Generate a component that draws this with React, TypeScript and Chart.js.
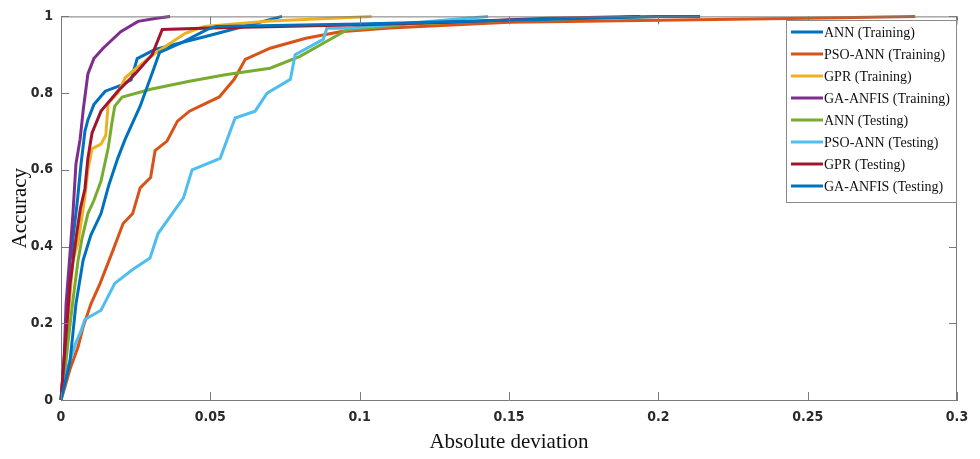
import React, { useEffect, useRef } from "react";
import { Chart, registerables } from "chart.js";

Chart.register(...registerables);

type P = [number, number];

const seriesLabels = [
  "ANN (Training)",
  "PSO-ANN (Training)",
  "GPR (Training)",
  "GA-ANFIS (Training)",
  "ANN (Testing)",
  "PSO-ANN (Testing)",
  "GPR (Testing)",
  "GA-ANFIS (Testing)",
];

const seriesColors = ["#0072BD", "#D95319", "#EDB120", "#7E2F8E", "#77AC30", "#4DBEEE", "#A2142F", "#0072BD"];

const annTraining: P[] = [
  [0, 0], [0.001, 0.1], [0.002, 0.2], [0.0034, 0.36], [0.004, 0.42], [0.0055, 0.52], [0.0067, 0.615],
  [0.008, 0.7], [0.009, 0.73], [0.011, 0.77], [0.0148, 0.805], [0.02, 0.82], [0.0235, 0.835],
  [0.0255, 0.89], [0.0315, 0.914], [0.05, 0.951], [0.074, 1],
];

const psoAnnTraining: P[] = [
  [0, 0], [0.0013, 0.034], [0.003, 0.08], [0.0057, 0.138], [0.0074, 0.19], [0.01, 0.25], [0.0131, 0.304],
  [0.0174, 0.39], [0.0208, 0.46], [0.024, 0.486], [0.0265, 0.553], [0.03, 0.58], [0.0315, 0.65],
  [0.0355, 0.675], [0.039, 0.727], [0.043, 0.753], [0.053, 0.79], [0.058, 0.836], [0.0617, 0.888],
  [0.07, 0.917], [0.082, 0.943], [0.0935, 0.96], [0.11, 0.97], [0.15, 0.985], [0.2, 0.99], [0.25, 0.995],
  [0.286, 1],
];

const gprTraining: P[] = [
  [0, 0], [0.0017, 0.148], [0.004, 0.364], [0.0057, 0.41], [0.008, 0.53], [0.009, 0.6], [0.0104, 0.655],
  [0.0134, 0.667], [0.015, 0.69], [0.0158, 0.774], [0.019, 0.8], [0.0215, 0.84], [0.024, 0.857],
  [0.0315, 0.904], [0.0416, 0.956], [0.048, 0.974], [0.07, 0.988], [0.104, 1],
];

const gaAnfisTraining: P[] = [
  [0, 0], [0.001, 0.1], [0.0017, 0.25], [0.003, 0.38], [0.004, 0.486], [0.005, 0.615], [0.0064, 0.68],
  [0.0075, 0.76], [0.009, 0.85], [0.011, 0.89], [0.0141, 0.917], [0.02, 0.96], [0.0258, 0.987],
  [0.032, 0.995], [0.0365, 1],
];

const annTesting: P[] = [
  [0, 0], [0.001, 0.05], [0.0023, 0.148], [0.004, 0.26], [0.0057, 0.364], [0.007, 0.42], [0.009, 0.486],
  [0.011, 0.52], [0.0134, 0.571], [0.0158, 0.657], [0.017, 0.72], [0.018, 0.766], [0.0205, 0.79],
  [0.03, 0.81], [0.043, 0.831], [0.055, 0.848], [0.07, 0.865], [0.08, 0.896], [0.0878, 0.93],
  [0.096, 0.966], [0.11, 0.974], [0.116, 0.98], [0.15, 0.99], [0.2, 1],
];

const psoAnnTesting: P[] = [
  [0, 0], [0.0023, 0.086], [0.005, 0.15], [0.0067, 0.18], [0.008, 0.21], [0.0134, 0.234], [0.018, 0.304],
  [0.024, 0.34], [0.0298, 0.37], [0.0325, 0.434], [0.041, 0.527], [0.0439, 0.6], [0.0533, 0.63],
  [0.0583, 0.735], [0.065, 0.753], [0.069, 0.8], [0.0768, 0.836], [0.0784, 0.9], [0.0878, 0.94],
  [0.089, 0.969], [0.096, 0.969], [0.12, 0.985], [0.143, 1],
];

const gprTesting: P[] = [
  [0, 0], [0.001, 0.1], [0.002, 0.2], [0.003, 0.3], [0.005, 0.42], [0.0065, 0.5], [0.008, 0.55],
  [0.009, 0.63], [0.0104, 0.696], [0.0134, 0.753], [0.019, 0.805], [0.0248, 0.85], [0.0305, 0.9],
  [0.0339, 0.966], [0.05, 0.97], [0.1, 0.978], [0.13, 0.985], [0.163, 0.995], [0.194, 1],
];

const gaAnfisTesting: P[] = [
  [0, 0], [0.003, 0.1], [0.005, 0.25], [0.0074, 0.364], [0.01, 0.43], [0.0134, 0.486], [0.016, 0.56],
  [0.019, 0.63], [0.0215, 0.68], [0.0265, 0.766], [0.031, 0.862], [0.033, 0.906], [0.04, 0.93],
  [0.049, 0.966], [0.052, 0.974], [0.1, 0.98], [0.15, 0.99], [0.2, 1], [0.214, 1],
];

const allSeries: P[][] = [
  annTraining, psoAnnTraining, gprTraining, gaAnfisTraining,
  annTesting, psoAnnTesting, gprTesting, gaAnfisTesting,
];

const xTicks = [0, 0.05, 0.1, 0.15, 0.2, 0.25, 0.3];
const yTicks = [0, 0.2, 0.4, 0.6, 0.8, 1];

const AXIS_COLOR = "#7a7a7a";
const TICK_FONT = '"Liberation Sans Narrow", "DejaVu Sans Condensed", "Liberation Sans", sans-serif';
const SERIF = '"Liberation Serif", "Times New Roman", serif';

const framePlugin = {
  id: "frame",
  afterDatasetsDraw(chart: any) {
    const { ctx, chartArea, scales } = chart;
    const { left, right, top, bottom } = chartArea;
    ctx.save();
    ctx.strokeStyle = AXIS_COLOR;
    ctx.lineWidth = 1;
    ctx.beginPath();
    ctx.moveTo(left, top + 0.5);
    ctx.lineTo(right, top + 0.5);
    ctx.moveTo(right - 0.5, top);
    ctx.lineTo(right - 0.5, bottom);
    const L = 8;
    for (const v of xTicks) {
      const px = Math.round(scales.x.getPixelForValue(v)) + 0.5;
      ctx.moveTo(px, bottom);
      ctx.lineTo(px, bottom - L);
      ctx.moveTo(px, top);
      ctx.lineTo(px, top + L);
    }
    for (const v of yTicks) {
      const py = Math.round(scales.y.getPixelForValue(v)) + 0.5;
      ctx.moveTo(left, py);
      ctx.lineTo(left + L, py);
      ctx.moveTo(right, py);
      ctx.lineTo(right - L, py);
    }
    ctx.stroke();

    // legend
    const bx = 786.5, by = 20.5, bw = right - 786, bh = 182;
    ctx.fillStyle = "#ffffff";
    ctx.fillRect(bx, by, bw, bh);
    ctx.strokeStyle = "#8a8a8a";
    ctx.strokeRect(bx, by, bw - 1, bh);
    ctx.font = "14px " + SERIF;
    ctx.textBaseline = "middle";
    ctx.textAlign = "left";
    chart.data.datasets.forEach((ds: any, i: number) => {
      const y = 32 + i * 22;
      ctx.strokeStyle = ds.borderColor;
      ctx.lineWidth = 3;
      ctx.beginPath();
      ctx.moveTo(791, y);
      ctx.lineTo(823, y);
      ctx.stroke();
      ctx.fillStyle = "#111";
      ctx.fillText(ds.label, 824, y + 1);
    });
    ctx.restore();
  },
};

export default function App() {
  const ref = useRef<HTMLCanvasElement | null>(null);
  useEffect(() => {
    document.body.style.margin = "0";
    const canvas = ref.current!;
    const chart = new Chart(canvas, {
      type: "line",
      data: {
        datasets: allSeries.map((s, i) => ({
          label: seriesLabels[i],
          data: s.map(([x, y]) => ({ x, y })),
          borderColor: seriesColors[i],
          backgroundColor: seriesColors[i],
          borderWidth: 3,
          pointRadius: 0,
          tension: 0,
          fill: false,
          clip: 6,
          order: allSeries.length - i,
        })),
      },
      options: {
        responsive: false,
        devicePixelRatio: 1,
        animation: false,
        events: [],
        layout: { padding: { top: 15, right: 23, left: 0, bottom: 0 } },
        plugins: { legend: { display: false }, tooltip: { enabled: false }, title: { display: false } },
        scales: {
          x: {
            type: "linear",
            min: 0,
            max: 0.3,
            afterFit: (s: any) => { s.height = 59; },
            afterBuildTicks: (s: any) => { s.ticks = xTicks.map((v) => ({ value: v })); },
            grid: { display: true, drawOnChartArea: false, drawTicks: false },
            border: { display: true, color: AXIS_COLOR, width: 1 },
            ticks: {
              padding: 9,
              color: "#2a2a2a",
              font: { family: TICK_FONT, size: 14, weight: "bold" },
              maxRotation: 0,
              callback: (v: any) => String(v),
            },
            title: {
              display: true,
              text: "Absolute deviation",
              color: "#111",
              font: { family: SERIF, size: 21 },
              padding: { top: 0, bottom: 4 },
            },
          },
          y: {
            type: "linear",
            min: 0,
            max: 1,
            afterFit: (s: any) => { s.width = 61; },
            afterBuildTicks: (s: any) => { s.ticks = yTicks.map((v) => ({ value: v })); },
            grid: { display: true, drawOnChartArea: false, drawTicks: false },
            border: { display: true, color: AXIS_COLOR, width: 1 },
            ticks: {
              padding: 8,
              color: "#2a2a2a",
              font: { family: TICK_FONT, size: 14, weight: "bold" },
              callback: (v: any) => String(v),
            },
            title: {
              display: true,
              text: "Accuracy",
              color: "#111",
              font: { family: SERIF, size: 21 },
              padding: { top: 8, bottom: 0 },
            },
          },
        },
      },
      plugins: [framePlugin],
    } as any);
    return () => chart.destroy();
  }, []);
  return <canvas ref={ref} width={980} height={459} style={{ display: "block", width: 980, height: 459 }} />;
}
